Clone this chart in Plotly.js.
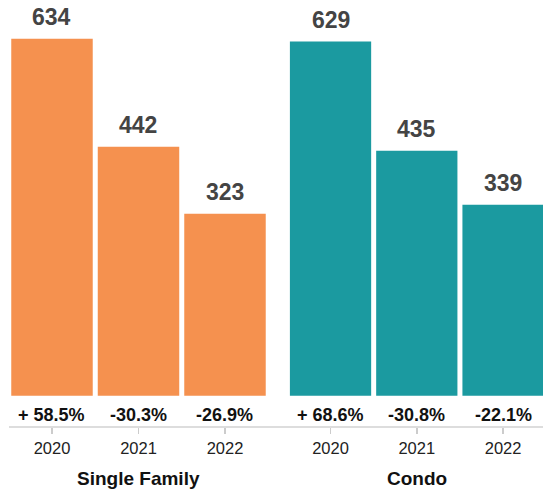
<!DOCTYPE html>
<html>
<head>
<meta charset="utf-8">
<script src="https://cdn.plot.ly/plotly-3.0.1.min.js"></script>
<style>html,body{margin:0;padding:0;background:#fff;}#chart{width:543px;height:492px;}</style>
</head>
<body>
<div id="chart"></div>
<script>
const years = ['2020', '2021', '2022'];
const singleFamily = [634, 442, 323];
const condo = [629, 435, 339];
const singleFamilyChange = ['+ 58.5%', '-30.3%', '-26.9%'];
const condoChange = ['+ 68.6%', '-30.8%', '-22.1%'];
const groupNames = ['Single Family', 'Condo'];

const FONT = 'Liberation Sans, Arial, Helvetica, sans-serif';
const ORANGE = '#F5914F';
const TEAL = '#1B9AA0';

const traces = [
  {type: 'bar', x: years, y: singleFamily, xaxis: 'x', yaxis: 'y',
   marker: {color: ORANGE}, hoverinfo: 'x+y', showlegend: false},
  {type: 'bar', x: years, y: condo, xaxis: 'x2', yaxis: 'y2',
   marker: {color: TEAL}, hoverinfo: 'x+y', showlegend: false}
];

const annotations = [];
const groups = [
  {axis: 'x', yaxis: 'y', values: singleFamily, changes: singleFamilyChange, name: groupNames[0]},
  {axis: 'x2', yaxis: 'y2', values: condo, changes: condoChange, name: groupNames[1]}
];
groups.forEach(g => {
  years.forEach((yr, i) => {
    annotations.push({
      xref: g.axis, yref: g.yaxis, x: i, y: g.values[i],
      text: '<b>' + g.values[i] + '</b>', showarrow: false,
      yanchor: 'bottom', yshift: 7,
      font: {family: FONT, size: 23, color: '#444444'}
    });
    annotations.push({
      xref: g.axis, yref: 'paper', x: i, y: 0,
      text: '<b>' + g.changes[i] + '</b>', showarrow: false,
      yanchor: 'middle', yshift: 12.5,
      font: {family: FONT, size: 18, color: '#111111'}
    });
  });
  annotations.push({
    xref: g.axis, yref: 'paper', x: 1, y: 0,
    text: '<b>' + g.name + '</b>', showarrow: false,
    yanchor: 'middle', yshift: -51,
    font: {family: FONT, size: 19, color: '#111111'}
  });
});

const xaxisBase = {
  type: 'category', showgrid: false, zeroline: false, showline: false,
  ticks: 'outside', ticklen: 6, tickwidth: 1.5, tickcolor: '#cccccc',
  tickfont: {family: FONT, size: 16.5, color: '#222222'},
  fixedrange: true
};
const yaxisBase = {
  range: [-55.6, 702.8], visible: false, showgrid: false, zeroline: false, fixedrange: true
};

const layout = {
  width: 543, height: 492,
  margin: {l: 0, r: 0, t: 0, b: 65, pad: 0},
  paper_bgcolor: '#ffffff', plot_bgcolor: '#ffffff',
  bargap: 0.058,
  xaxis: Object.assign({}, xaxisBase, {domain: [0.01611, 0.49401], range: [-0.5, 2.5], anchor: 'y'}),
  xaxis2: Object.assign({}, xaxisBase, {domain: [0.52928, 1], range: [-0.5, 2.463], anchor: 'y2'}),
  yaxis: Object.assign({}, yaxisBase, {anchor: 'x'}),
  yaxis2: Object.assign({}, yaxisBase, {anchor: 'x2'}),
  annotations: annotations,
  shapes: [{
    type: 'line', xref: 'paper', yref: 'paper', x0: 0.01657, x1: 1, y0: 0, y1: 0,
    line: {color: '#dddddd', width: 2}, layer: 'below'
  }],
  font: {family: FONT}
};

Plotly.newPlot('chart', traces, layout, {displayModeBar: false, staticPlot: true});
</script>
</body>
</html>
